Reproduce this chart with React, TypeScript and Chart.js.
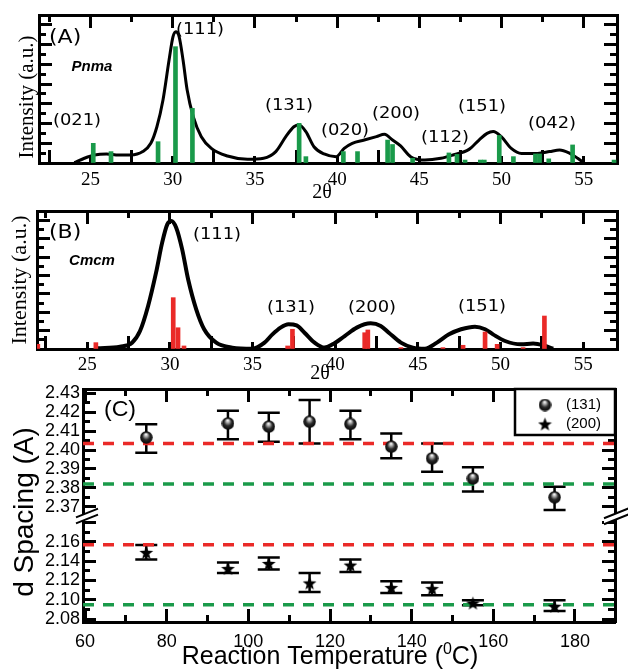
import { useEffect, useRef } from 'react';
import { Chart, registerables } from 'chart.js';

Chart.register(...registerables);

const W = 628;
const H = 669;

// ---------- Panel (A): Pnma ----------
const pnmaTheta = [24.02, 24.63, 25.24, 25.98, 26.71, 27.45, 28.18, 28.67, 29.04, 29.41, 29.78, 30.02, 30.19, 30.39, 30.63, 30.88, 31.25, 31.74, 32.35, 33.33, 34.55, 35.53, 36.27, 36.88, 37.37, 37.69, 38.10, 38.59, 39.21, 39.94, 40.43, 40.92, 41.65, 42.39, 42.88, 43.37, 43.86, 44.47, 45.33, 46.31, 47.04, 48.02, 48.63, 49.12, 49.49, 49.98, 50.59, 51.21, 52.19, 52.92, 53.53, 54.15, 54.63, 55.0];
const pnmaIntensity = [0.2, 3.2, 5.4, 6.1, 5.4, 5.4, 7.7, 13.3, 24.5, 42.6, 69.6, 85.4, 88.7, 85.4, 69.6, 49.3, 31.3, 17.8, 9.9, 4.7, 2.5, 3.2, 7.7, 17.8, 24.5, 25.7, 21.2, 11.0, 6.1, 4.3, 9.9, 13.3, 15.5, 17.8, 19.4, 15.5, 11.5, 4.3, 2.0, 3.2, 5.4, 9.2, 15.5, 20.0, 21.2, 17.8, 9.9, 6.5, 6.5, 7.7, 8.8, 6.5, 3.2, 0.2];
const pnmaRefTheta = [25.17, 26.25, 29.11, 30.17, 31.2, 37.69, 38.1, 40.38, 41.24, 43.07, 43.37, 44.59, 46.8, 47.29, 47.78, 48.71, 48.95, 49.86, 50.72, 52.06, 52.31, 52.87, 54.32, 56.84];
const pnmaRefIntensity = [13.3, 7.7, 14.4, 78.6, 36.9, 26.8, 4.3, 7.7, 7.7, 15.5, 12.5, 3.2, 6.8, 5.8, 2.0, 2.0, 2.0, 18.6, 4.3, 6.1, 6.1, 2.8, 12.2, 2.0];

// ---------- Panel (B): Cmcm ----------
const cmcmTheta = [25.6, 26.98, 27.71, 28.19, 28.68, 29.16, 29.53, 29.84, 30.08, 30.38, 30.74, 31.1, 31.59, 32.07, 32.8, 33.77, 34.99, 35.72, 36.2, 36.69, 37.17, 37.66, 38.14, 38.75, 39.35, 39.84, 40.57, 41.3, 42.14, 42.75, 43.24, 43.97, 44.69, 45.42, 46.15, 46.88, 47.61, 48.45, 49.06, 49.54, 50.27, 51.24, 51.97, 52.7, 53.18];
const cmcmIntensity = [0.5, 1.7, 4.6, 13.0, 31.2, 55.3, 77.1, 90.3, 92.8, 87.9, 72.2, 50.5, 28.7, 14.3, 4.6, 1.0, 0.2, 4.6, 10.6, 15.5, 17.9, 17.1, 11.8, 4.6, 1.0, 3.4, 9.4, 15.5, 18.6, 16.7, 11.8, 4.6, 1.0, 0.2, 4.6, 10.6, 14.3, 16.2, 14.3, 10.6, 5.8, 3.4, 3.9, 2.2, 0.2];
const cmcmRefTheta = [22.01, 25.52, 30.2, 30.49, 30.85, 37.12, 37.41, 41.78, 41.97, 43.97, 46.51, 47.73, 49.06, 49.79, 51.36, 52.65];
const cmcmRefIntensity = [3.4, 4.6, 37.2, 15.4, 2.2, 2.2, 14.3, 11.8, 13.8, 1.0, 1.0, 2.7, 12.3, 3.4, 1.0, 23.9];

// ---------- Panel (C): d spacing vs reaction temperature ----------
const temperatures = [75, 95, 105, 115, 125, 135, 145, 155, 175];
const d131 = [2.4067, 2.4141, 2.4124, 2.415, 2.4138, 2.4018, 2.3956, 2.385, 2.375];
const d131Low = [2.3986, 2.4057, 2.4044, 2.4035, 2.4057, 2.3956, 2.3885, 2.378, 2.3683];
const d131High = [2.4136, 2.4208, 2.4197, 2.4265, 2.4208, 2.4088, 2.4035, 2.3909, 2.3806];
const d200 = [2.149, 2.1324, 2.1376, 2.1175, 2.1359, 2.1128, 2.1117, 2.0968, 2.0934];
const d200Low = [2.1418, 2.1279, 2.1314, 2.1082, 2.1289, 2.1072, 2.1048, 2.0944, 2.0885];
const d200High = [2.1566, 2.1387, 2.1438, 2.1279, 2.1418, 2.1193, 2.1179, 2.0996, 2.0996];
const cmcmRef131 = 2.4035;
const pnmaRef131 = 2.382;
const cmcmRef200 = 2.157;
const pnmaRef200 = 2.095;

// ---------- tick labels ----------
const thetaTickLabels = [25, 30, 35, 40, 45, 50, 55];
const temperatureTickLabels = [60, 80, 100, 120, 140, 160, 180];
const dUpperTickLabels = ['2.37', '2.38', '2.39', '2.40', '2.41', '2.42', '2.43'];
const dLowerTickLabels = ['2.08', '2.10', '2.12', '2.14', '2.16'];

const GREEN = '#1a9a4a';
const RED = '#ea2a28';
const SERIF = "'Liberation Serif', 'Times New Roman', serif";
const SANS = "'Liberation Sans', Arial, sans-serif";
const DEJAVU = "'DejaVu Sans', sans-serif";

function axis(position: string, min: number, max: number, step: number, tickLen: number, size: number, weight: number, o: any = {}) {
  const a: any = {
    type: 'linear',
    position,
    min,
    max,
    weight,
    offset: false,
    ticks: {
      stepSize: step,
      includeBounds: false,
      autoSkip: false,
      maxRotation: 0,
      minRotation: 0,
      display: !!o.labels,
      color: '#000',
      font: o.font,
      padding: o.padding ?? 0,
      callback: o.labels ?? (() => ''),
    },
    grid: { display: true, drawOnChartArea: false, drawTicks: true, tickLength: -tickLen, tickWidth: 3, tickColor: '#000' },
    border: { display: true, width: 3, color: '#000' },
    afterFit: (s: any) => {
      if (s.isHorizontal()) s.height = size;
      else s.width = size;
    },
  };
  if (o.stack) {
    a.stack = o.stack;
    a.stackWeight = o.stackWeight;
  }
  return a;
}

type Txt = { t: string; x: number; y: number; font: string; align?: CanvasTextAlign; sx?: number; rot?: boolean };

function textPlugin(items: Txt[], extra?: (ctx: CanvasRenderingContext2D) => void) {
  return {
    id: 'texts',
    afterDraw(chart: any) {
      const ctx: CanvasRenderingContext2D = chart.ctx;
      ctx.save();
      ctx.fillStyle = '#000';
      ctx.textBaseline = 'middle';
      for (const it of items) {
        ctx.save();
        ctx.translate(it.x, it.y);
        if (it.rot) ctx.rotate(-Math.PI / 2);
        ctx.scale(it.sx ?? 1, 1);
        ctx.font = it.font;
        ctx.textAlign = it.align ?? 'center';
        ctx.fillText(it.t, 0, 0);
        ctx.restore();
      }
      if (extra) extra(ctx);
      ctx.restore();
    },
  };
}

const thetaLabel = (v: number) => (thetaTickLabels.some((t) => Math.abs(t - v) < 1e-6) ? String(Math.round(v)) : '');
const tempLabel = (v: number) => (temperatureTickLabels.some((t) => Math.abs(t - v) < 1e-6) ? String(Math.round(v)) : '');
const dUpperLabel = (v: number) => {
  const s = Number(v).toFixed(2);
  return dUpperTickLabels.includes(s) ? s : '';
};
const dLowerLabel = (v: number) => {
  const s = Number(v).toFixed(2);
  return dLowerTickLabels.includes(s) ? s : '';
};

type XrdLayout = { top: number; bottom: number; left: number; right: number; xMin: number; xMax: number; bottomH: number; labelPad: number; lineWidth: number };

function makeXrd(canvas: HTMLCanvasElement, theta: number[], inten: number[], refTheta: number[], refInten: number[], color: string, L: XrdLayout, texts: Txt[]) {
  const tickFont = { family: SERIF, size: 19 };
  return new Chart(canvas, {
    type: 'line',
    data: {
      datasets: [
        {
          type: 'bar',
          data: refTheta.map((x, i) => ({ x, y: refInten[i] })),
          backgroundColor: color,
          borderWidth: 0,
          barThickness: 4,
          xAxisID: 'x',
          yAxisID: 'y',
        } as any,
        {
          type: 'line',
          data: theta.map((x, i) => ({ x, y: inten[i] })),
          borderColor: '#000',
          borderWidth: L.lineWidth,
          pointRadius: 0,
          tension: 0.4,
          cubicInterpolationMode: 'monotone',
          fill: false,
          xAxisID: 'x',
          yAxisID: 'y',
        } as any,
      ],
    },
    options: {
      animation: false,
      responsive: false,
      devicePixelRatio: 1,
      events: [],
      layout: { autoPadding: false, padding: { left: 0, top: L.top, right: W - L.right, bottom: H - L.bottom - L.bottomH } } as any,
      plugins: { legend: { display: false }, tooltip: { enabled: false } },
      scales: {
        xMinor: axis('bottom', L.xMin, L.xMax, 2.5, 7, 0, 0),
        x: axis('bottom', L.xMin, L.xMax, 5, 13, L.bottomH, 1, { labels: thetaLabel, font: tickFont, padding: L.labelPad }),
        xTopMinor: axis('top', L.xMin, L.xMax, 2.5, 7, 0, 0),
        xTop: axis('top', L.xMin, L.xMax, 5, 13, 0, 1),
        yMinor: axis('left', 0, 100, 20 / 3, 7, 0, 0),
        y: axis('left', 0, 100, 40 / 3, 13, L.left, 1),
        yR: axis('right', 0, 100, 40 / 3, 13, 0, 0),
        yRMinor: axis('right', 0, 100, 20 / 3, 7, 0, 1),
      } as any,
    },
    plugins: [textPlugin(texts)],
  });
}

function makeSphere(d: number) {
  const c = document.createElement('canvas');
  c.width = d;
  c.height = d;
  const g = c.getContext('2d')!;
  const r = d / 2;
  const grad = g.createRadialGradient(r * 0.95, r * 0.5, 0.3, r, r * 1.05, r);
  grad.addColorStop(0, '#ffffff');
  grad.addColorStop(0.22, '#b0b0b0');
  grad.addColorStop(0.55, '#2a2a2a');
  grad.addColorStop(1, '#000000');
  g.fillStyle = grad;
  g.beginPath();
  g.arc(r, r, r - 0.3, 0, Math.PI * 2);
  g.fill();
  return c;
}

function makeStar(d: number) {
  const c = document.createElement('canvas');
  c.width = d;
  c.height = d;
  const g = c.getContext('2d')!;
  const r = d / 2;
  const ro = r - 0.3;
  const ri = ro * 0.42;
  g.fillStyle = '#000';
  g.beginPath();
  for (let k = 0; k < 10; k++) {
    const rr = k % 2 === 0 ? ro : ri;
    const a = -Math.PI / 2 + (k * Math.PI) / 5;
    const px = r + rr * Math.cos(a);
    const py = r + 0.8 + rr * Math.sin(a);
    if (k === 0) g.moveTo(px, py);
    else g.lineTo(px, py);
  }
  g.closePath();
  g.fill();
  return c;
}

function makeC(canvas: HTMLCanvasElement) {
  const sphere = makeSphere(13);
  const star = makeStar(15);
  const top = 389;
  const bottom = 622;
  const left = 83;
  const right = 615;
  const split = 516;
  const tMin = 59.5;
  const tMax = 189.8;
  const upMin = 2.3651;
  const upMax = 2.4323;
  const lowMin = 2.0772;
  const lowMax = 2.1866;
  const wUp = split - top;
  const wLow = bottom - split;
  const tickFont = { family: SANS, size: 18 };

  const dashed = (v: number, col: string, yAxisID: string) => ({
    type: 'line',
    data: [
      { x: tMin, y: v },
      { x: tMax, y: v },
    ],
    borderColor: col,
    borderWidth: 3.5,
    borderDash: [11, 9],
    pointRadius: 0,
    fill: false,
    xAxisID: 'x',
    yAxisID,
  });

  const errorBars = {
    id: 'errorBars',
    beforeDatasetsDraw(chart: any) {
      const ctx: CanvasRenderingContext2D = chart.ctx;
      const xs = chart.scales.x;
      const sets = [
        { ys: chart.scales.yUp, lo: d131Low, hi: d131High },
        { ys: chart.scales.yLow, lo: d200Low, hi: d200High },
      ];
      const cap = 11;
      ctx.save();
      ctx.strokeStyle = '#000';
      ctx.lineWidth = 2.5;
      for (const s of sets) {
        temperatures.forEach((t, i) => {
          const x = xs.getPixelForValue(t);
          const y1 = s.ys.getPixelForValue(s.lo[i]);
          const y2 = s.ys.getPixelForValue(s.hi[i]);
          ctx.beginPath();
          ctx.moveTo(x, y1);
          ctx.lineTo(x, y2);
          ctx.moveTo(x - cap, y1);
          ctx.lineTo(x + cap, y1);
          ctx.moveTo(x - cap, y2);
          ctx.lineTo(x + cap, y2);
          ctx.stroke();
        });
      }
      ctx.restore();
    },
  };

  const breakMarks = {
    id: 'breakMarks',
    afterDraw(chart: any) {
      const ctx: CanvasRenderingContext2D = chart.ctx;
      const ys = chart.scales.yUp.bottom;
      const a = chart.chartArea;
      const marks = [
        { cx: a.left + 4, half: 11 },
        { cx: a.right + 2, half: 13 },
      ];
      const k = 0.4;
      const gap = 3;
      ctx.save();
      for (const m of marks) {
        const x1 = m.cx - m.half;
        const x2 = m.cx + m.half;
        ctx.fillStyle = '#fff';
        ctx.beginPath();
        ctx.moveTo(x1, ys - gap + k * m.half);
        ctx.lineTo(x2, ys - gap - k * m.half);
        ctx.lineTo(x2, ys + gap - k * m.half);
        ctx.lineTo(x1, ys + gap + k * m.half);
        ctx.closePath();
        ctx.fill();
        ctx.strokeStyle = '#000';
        ctx.lineWidth = 2;
        ctx.beginPath();
        ctx.moveTo(x1, ys - gap + k * m.half);
        ctx.lineTo(x2, ys - gap - k * m.half);
        ctx.moveTo(x1, ys + gap + k * m.half);
        ctx.lineTo(x2, ys + gap - k * m.half);
        ctx.stroke();
      }
      ctx.restore();
    },
  };

  const boxLegend = {
    id: 'boxLegend',
    afterDraw(chart: any) {
      const ctx: CanvasRenderingContext2D = chart.ctx;
      const a = chart.chartArea;
      const bx = 515;
      const by = a.top;
      const bw = a.right - bx;
      const bh = 46;
      ctx.save();
      ctx.fillStyle = '#fff';
      ctx.fillRect(bx, by, bw, bh);
      ctx.strokeStyle = '#000';
      ctx.lineWidth = 2.5;
      ctx.strokeRect(bx, by, bw, bh);
      const rows = [
        { img: sphere, label: chart.data.datasets[0].label, y: by + 16 },
        { img: star, label: chart.data.datasets[1].label, y: by + 35 },
      ];
      ctx.fillStyle = '#000';
      ctx.font = `15px ${SANS}`;
      ctx.textAlign = 'left';
      ctx.textBaseline = 'middle';
      for (const r of rows) {
        ctx.drawImage(r.img, 545 - r.img.width / 2, r.y - r.img.height / 2);
        ctx.fillText(r.label, 566, r.y);
      }
      ctx.restore();
    },
  };

  const texts: Txt[] = [
    { t: '(C)', x: 104, y: 410, font: `22px ${SANS}`, align: 'left', sx: 1.05 },
    { t: 'd Spacing (A)', x: 25, y: 512, font: `28px ${SANS}`, rot: true },
  ];
  const title = (ctx: CanvasRenderingContext2D) => {
    const p1 = 'Reaction Temperature (';
    const sup = '0';
    const p2 = 'C)';
    const main = `25px ${SANS}`;
    const small = `16px ${SANS}`;
    ctx.textBaseline = 'alphabetic';
    ctx.textAlign = 'left';
    ctx.font = main;
    const w1 = ctx.measureText(p1).width;
    const w2 = ctx.measureText(p2).width;
    ctx.font = small;
    const ws = ctx.measureText(sup).width;
    let x = 330 - (w1 + ws + w2) / 2;
    const base = 664;
    ctx.font = main;
    ctx.fillText(p1, x, base);
    x += w1;
    ctx.font = small;
    ctx.fillText(sup, x, base - 10);
    x += ws;
    ctx.font = main;
    ctx.fillText(p2, x, base);
  };

  return new Chart(canvas, {
    type: 'line',
    data: {
      datasets: [
        {
          label: '(131)',
          data: temperatures.map((x, i) => ({ x, y: d131[i] })),
          showLine: false,
          pointStyle: sphere,
          pointRadius: 7,
          xAxisID: 'x',
          yAxisID: 'yUp',
        } as any,
        {
          label: '(200)',
          data: temperatures.map((x, i) => ({ x, y: d200[i] })),
          showLine: false,
          pointStyle: star,
          pointRadius: 7,
          xAxisID: 'x',
          yAxisID: 'yLow',
        } as any,
        dashed(cmcmRef131, RED, 'yUp') as any,
        dashed(pnmaRef131, GREEN, 'yUp') as any,
        dashed(cmcmRef200, RED, 'yLow') as any,
        dashed(pnmaRef200, GREEN, 'yLow') as any,
      ],
    },
    options: {
      animation: false,
      responsive: false,
      devicePixelRatio: 1,
      events: [],
      layout: { autoPadding: false, padding: { left: 0, top, right: W - right, bottom: H - bottom - 47 } } as any,
      plugins: { legend: { display: false }, tooltip: { enabled: false } },
      scales: {
        xMinor: axis('bottom', tMin, tMax, 10, 7, 0, 0),
        x: axis('bottom', tMin, tMax, 20, 13, 47, 1, { labels: tempLabel, font: tickFont, padding: 22 }),
        xTopMinor: axis('top', tMin, tMax, 10, 7, 0, 0),
        xTop: axis('top', tMin, tMax, 20, 13, 0, 1),
        yLowM: axis('left', lowMin, lowMax, 0.01, 7, 0, 1, { stack: 'LM', stackWeight: wLow }),
        yUpM: axis('left', upMin, upMax, 0.005, 7, 0, 2, { stack: 'LM', stackWeight: wUp }),
        yLow: axis('left', lowMin, lowMax, 0.02, 13, left, 3, { stack: 'L', stackWeight: wLow, labels: dLowerLabel, font: tickFont, padding: 16 }),
        yUp: axis('left', upMin, upMax, 0.01, 13, left, 4, { stack: 'L', stackWeight: wUp, labels: dUpperLabel, font: tickFont, padding: 16 }),
        yUpR: axis('right', upMin, upMax, 0.01, 13, 0, 1, { stack: 'R', stackWeight: wUp }),
        yLowR: axis('right', lowMin, lowMax, 0.02, 13, 0, 2, { stack: 'R', stackWeight: wLow }),
        yUpRM: axis('right', upMin, upMax, 0.005, 7, 0, 3, { stack: 'RM', stackWeight: wUp }),
        yLowRM: axis('right', lowMin, lowMax, 0.01, 7, 0, 4, { stack: 'RM', stackWeight: wLow }),
      } as any,
    },
    plugins: [errorBars, breakMarks, boxLegend, textPlugin(texts, title)],
  });
}

const hkl = `16px ${DEJAVU}`;
const textsA: Txt[] = [
  { t: '(A)', x: 49, y: 38, font: `20px ${DEJAVU}`, align: 'left', sx: 1.1 },
  { t: 'Pnma', x: 92, y: 67, font: `italic bold 15px ${SANS}` },
  { t: '(021)', x: 77, y: 121, font: hkl, sx: 1.12 },
  { t: '(111)', x: 200, y: 30, font: hkl, sx: 1.12 },
  { t: '(131)', x: 289, y: 106, font: hkl, sx: 1.12 },
  { t: '(020)', x: 345, y: 131, font: hkl, sx: 1.12 },
  { t: '(200)', x: 396, y: 114, font: hkl, sx: 1.12 },
  { t: '(112)', x: 445, y: 138, font: hkl, sx: 1.12 },
  { t: '(151)', x: 482, y: 107, font: hkl, sx: 1.12 },
  { t: '(042)', x: 552, y: 124, font: hkl, sx: 1.12 },
  { t: '2θ', x: 322, y: 193, font: `20px ${SERIF}` },
  { t: 'Intensity (a.u.)', x: 27, y: 97, font: `21px ${SERIF}`, rot: true },
];
const textsB: Txt[] = [
  { t: '(B)', x: 49, y: 233, font: `20px ${DEJAVU}`, align: 'left', sx: 1.1 },
  { t: 'Cmcm', x: 92, y: 261, font: `italic bold 15px ${SANS}` },
  { t: '(111)', x: 217, y: 235, font: hkl, sx: 1.12 },
  { t: '(131)', x: 291, y: 308, font: hkl, sx: 1.12 },
  { t: '(200)', x: 372, y: 308, font: hkl, sx: 1.12 },
  { t: '(151)', x: 482, y: 307, font: hkl, sx: 1.12 },
  { t: '2θ', x: 320, y: 374, font: `20px ${SERIF}` },
  { t: 'Intensity (a.u.)', x: 20, y: 280, font: `22px ${SERIF}`, rot: true },
];

export default function App() {
  const aRef = useRef<HTMLCanvasElement>(null);
  const bRef = useRef<HTMLCanvasElement>(null);
  const cRef = useRef<HTMLCanvasElement>(null);

  useEffect(() => {
    const charts = [
      makeXrd(aRef.current!, pnmaTheta, pnmaIntensity, pnmaRefTheta, pnmaRefIntensity, GREEN,
        { top: 15, bottom: 163, left: 39, right: 617, xMin: 21.87, xMax: 57.02, bottomH: 37, labelPad: 18.6, lineWidth: 3 }, textsA),
      makeXrd(bRef.current!, cmcmTheta, cmcmIntensity, cmcmRefTheta, cmcmRefIntensity, RED,
        { top: 211, bottom: 349, left: 37, right: 617, xMin: 21.96, xMax: 57.04, bottomH: 30, labelPad: 17.6, lineWidth: 4 }, textsB),
      makeC(cRef.current!),
    ];
    return () => charts.forEach((c) => c.destroy());
  }, []);

  const cs: any = { position: 'absolute', left: 0, top: 0, width: W, height: H };
  return (
    <div style={{ position: 'absolute', left: 0, top: 0, width: W, height: H, background: '#fff', overflow: 'hidden' }}>
      <canvas ref={aRef} width={W} height={H} style={cs} />
      <canvas ref={bRef} width={W} height={H} style={cs} />
      <canvas ref={cRef} width={W} height={H} style={cs} />
    </div>
  );
}
